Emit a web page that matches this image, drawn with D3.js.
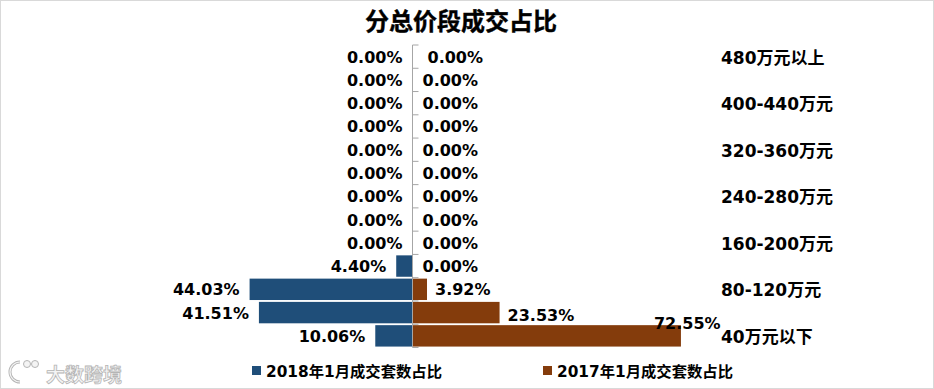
<!DOCTYPE html>
<html><head><meta charset="utf-8">
<script src="https://cdn.jsdelivr.net/npm/d3@7"></script>
<style>
html,body{margin:0;padding:0;background:#fff;}
svg{display:block;}
text{font-family:"DejaVu Sans","Noto Sans CJK SC",sans-serif;font-weight:bold;}
</style></head>
<body>
<svg id="chart" width="934" height="389"></svg>
<script>
const title = "分总价段成交占比";
// categories from top to bottom
const categories = ["480万元以上","440-480万元","400-440万元","360-400万元","320-360万元","280-320万元","240-280万元","200-240万元","160-200万元","120-160万元","80-120万元","40-80万元","40万元以下"];
const shownLabels = ["480万元以上","400-440万元","320-360万元","240-280万元","160-200万元","80-120万元","40万元以下"];
const series2018 = [0,0,0,0,0,0,0,0,0,4.40,44.03,41.51,10.06];
const series2017 = [0,0,0,0,0,0,0,0,0,0,3.92,23.53,72.55];
const seriesNames = ["2018年1月成交套数占比","2017年1月成交套数占比"];
const colors = ["#1F4E79","#843C0C"];
const watermark = "大数跨境";

const svg = d3.select("#chart");
svg.append("rect").attr("x",0.5).attr("y",0.5).attr("width",933).attr("height",388)
  .attr("fill","#fff").attr("stroke","#d9d9d9");

const x0 = 412.5;
const w = d3.scaleLinear().domain([0,100]).range([0,370]);
const y = d3.scaleBand().domain(categories).range([45,347.5]).paddingInner(0.08).paddingOuter(0.04);

// title
svg.append("text").attr("x",461).attr("y",30).attr("text-anchor","middle")
  .attr("font-size",24).attr("fill","#000").attr("stroke","#000").attr("stroke-width",0.4).text(title);

// bars left
svg.append("g").selectAll("rect").data(categories).join("rect")
  .attr("x",(d,i)=>x0 - w(series2018[i])).attr("y",d=>y(d))
  .attr("width",(d,i)=>w(series2018[i])).attr("height",y.bandwidth())
  .attr("fill",colors[0]);
// bars right
svg.append("g").selectAll("rect").data(categories).join("rect")
  .attr("x",x0).attr("y",d=>y(d))
  .attr("width",(d,i)=>w(series2017[i])).attr("height",y.bandwidth())
  .attr("fill",colors[1]);

// axis
const step = (347.5-45)/categories.length;
const ax = svg.append("g");
ax.append("line").attr("x1",x0).attr("x2",x0).attr("y1",45).attr("y2",347.5).attr("stroke","#a6a6a6").attr("stroke-width",1);
ax.selectAll("line.t").data(d3.range(categories.length+1)).join("line").attr("class","t")
  .attr("x1",x0).attr("x2",x0+6).attr("y1",i=>45+i*step).attr("y2",i=>45+i*step)
  .attr("stroke","#a6a6a6");

// value labels
const fmt = v => v.toFixed(2)+"%";
svg.append("g").selectAll("text").data(categories).join("text")
  .attr("x",(d,i)=>x0 - w(series2018[i]) - 10)
  .attr("y",d=>y(d)+y.bandwidth()/2+6)
  .attr("text-anchor","end").attr("font-size",16).attr("fill","#000")
  .text((d,i)=>fmt(series2018[i]));
svg.append("g").selectAll("text").data(categories).join("text")
  .attr("x",(d,i)=>{const v=series2017[i]; return v>50 ? x0 + w(v) - 27 : x0 + w(v) + (v>0?8:10) + (i===0?5:0);})
  .attr("y",(d,i)=>y(d)+y.bandwidth()/2+6 + (series2017[i]>50?-13:(series2017[i]>10?2:0)))
  .attr("text-anchor","start").attr("font-size",16).attr("fill","#000")
  .text((d,i)=>fmt(series2017[i]));

// category labels
svg.append("g").selectAll("text").data(shownLabels).join("text")
  .attr("x",721).attr("y",d=>y(d)+y.bandwidth()/2+7)
  .attr("font-size",17).attr("fill","#000").text(d=>d);

// legend
const lg = svg.append("g");
const legX = [252,543];
seriesNames.forEach((n,i)=>{
  lg.append("rect").attr("x",legX[i]).attr("y",366).attr("width",9).attr("height",9).attr("fill",colors[i]);
  lg.append("text").attr("x",legX[i]+14).attr("y",377).attr("font-size",15).attr("fill","#000")
    .attr("textLength",176).attr("lengthAdjust","spacingAndGlyphs").text(n);
});

// watermark (logo drawn as shapes + text)
const wm = svg.append("g").attr("fill","#f4f4f4").attr("stroke","#b5b5b5");
wm.append("path").attr("d","M20,362 A10,10 0 1,0 20,382").attr("fill","none").attr("stroke-width",3);
wm.append("path").attr("d","M20,362 A10,10 0 1,0 20,382").attr("fill","none").attr("stroke","#f4f4f4").attr("stroke-width",1.2);
wm.append("circle").attr("cx",27).attr("cy",364).attr("r",3.5).attr("stroke-width",1);
wm.append("circle").attr("cx",35).attr("cy",364).attr("r",3.5).attr("stroke-width",1);
wm.append("text").attr("x",46).attr("y",382).attr("font-size",19)
  .attr("stroke-width",0.8).text(watermark);
</script>
</body></html>
